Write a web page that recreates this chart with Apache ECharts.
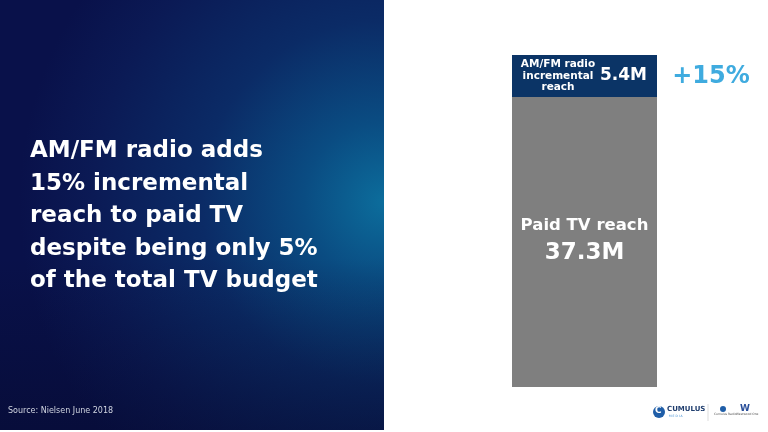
<!DOCTYPE html>
<html><head><meta charset="utf-8">
<script src="https://cdn.jsdelivr.net/npm/echarts@6/dist/echarts.min.js"></script>
<style>html,body{margin:0;padding:0;background:#fff}#c{width:768px;height:432px}</style>
</head><body><div id="c"></div>
<script>
const categories = ['Reach'];
const paidTV = [37.3];
const radioIncremental = [5.4];
const seriesNames = ['Paid TV reach', 'AM/FM radio incremental reach'];
const radioLabel = 'AM/FM radio\nincremental\nreach';
const headline = ['AM/FM radio adds', '15% incremental', 'reach to paid TV', 'despite being only 5%', 'of the total TV budget'];
const liftLabel = '+15%';
const sourceText = 'Source: Nielsen June 2018';

const chart = echarts.init(document.getElementById('c'), null, {renderer: 'canvas'});
const ff = '"DejaVu Sans", sans-serif';
const option = {
  animation: false,
  backgroundColor: '#ffffff',
  grid: {left: 512, right: 111, top: 55, bottom: 45},
  xAxis: {type: 'category', data: categories, show: false},
  yAxis: {type: 'value', min: 0, max: paidTV[0] + radioIncremental[0], show: false},
  graphic: [
    {type: 'rect', z: -10, shape: {x: 0, y: 0, width: 384, height: 430},
     style: {fill: new echarts.graphic.RadialGradient(1, 0.47, 0.95, [
       {offset: 0, color: '#0c6d9c'},
       {offset: 0.22, color: '#0a4c82'},
       {offset: 0.5, color: '#0b2b66'},
       {offset: 0.8, color: '#0b1a55'},
       {offset: 1, color: '#09114a'}])}},
    {type: 'rect', z: -9, shape: {x: 0, y: 0, width: 384, height: 430},
     style: {fill: new echarts.graphic.LinearGradient(0, 0, 0, 1, [
       {offset: 0, color: 'rgba(5,8,40,0)'},
       {offset: 0.6, color: 'rgba(5,8,40,0)'},
       {offset: 1, color: 'rgba(5,8,40,0.45)'}])}},
    {type: 'text', left: 30, top: 135, z: 100, style: {text: headline.join('\n'), fill: '#ffffff',
      font: 'bold 23px ' + ff, lineHeight: 32.5}},
    {type: 'text', left: 8, top: 407, z: 100, style: {text: sourceText, fill: '#d0d4e0', font: '8px ' + ff}},
    // logos
    {type: 'circle', shape: {cx: 659, cy: 412, r: 6}, style: {fill: '#1f5ea8'}},
    {type: 'text', left: 655, top: 406, style: {text: 'C', fill: '#fff', font: 'bold 9px ' + ff}},
    {type: 'text', left: 667, top: 406, style: {text: 'CUMULUS', fill: '#1f3d6e', font: 'bold 7px ' + ff}},
    {type: 'text', left: 669, top: 415, style: {text: 'M E D I A', fill: '#3a8ad0', font: '3px ' + ff}},
    {type: 'line', shape: {x1: 708, y1: 404, x2: 708, y2: 421}, style: {stroke: '#ddd', lineWidth: 1}},
    {type: 'circle', shape: {cx: 723, cy: 409, r: 3}, style: {fill: '#1f5ea8'}},
    {type: 'text', left: 714, top: 413, style: {text: 'Cumulus Radio', fill: '#555', font: '3px ' + ff}},
    {type: 'text', left: 740, top: 404, style: {text: 'W', fill: '#2a4f9a', font: 'bold 9px ' + ff}},
    {type: 'text', left: 736, top: 413, style: {text: 'Westwood One', fill: '#555', font: '3px ' + ff}}
  ],
  series: [
    {name: seriesNames[0], type: 'bar', stack: 'reach', data: paidTV, barWidth: '100%',
     itemStyle: {color: '#7f7f7f'},
     label: {show: true, position: 'inside', offset: [0, -2],
       formatter: p => '{a|' + seriesNames[0] + '}\n{b|' + p.value + 'M}',
       rich: {a: {color: '#fff', fontFamily: ff, fontWeight: 'bold', fontSize: 16.5, lineHeight: 27},
              b: {color: '#fff', fontFamily: ff, fontWeight: 'bold', fontSize: 23, lineHeight: 28}}}},
    {name: seriesNames[1], type: 'bar', stack: 'reach', data: radioIncremental, barWidth: '100%',
     itemStyle: {color: '#0b3466'},
     label: {show: true, position: 'insideRight', distance: 10,
       formatter: p => p.value + 'M', color: '#fff', fontFamily: ff, fontWeight: 'bold', fontSize: 17}}
  ]
};
chart.setOption(option);

const midPt = chart.convertToPixel({gridIndex: 0}, [categories[0], paidTV[0] + radioIncremental[0] / 2]);
chart.setOption({graphic: option.graphic.concat([
  {type: 'text', x: 558, y: midPt[1], z: 100, style: {text: radioLabel, fill: '#fff',
    font: 'bold 10.5px ' + ff, lineHeight: 11.5, align: 'center', verticalAlign: 'middle'}},
  {type: 'text', x: 711, y: midPt[1] + 1, z: 100, style: {text: liftLabel, fill: '#3fabdf',
    font: 'bold 24px ' + ff, align: 'center', verticalAlign: 'middle'}}
])});
</script></body></html>
